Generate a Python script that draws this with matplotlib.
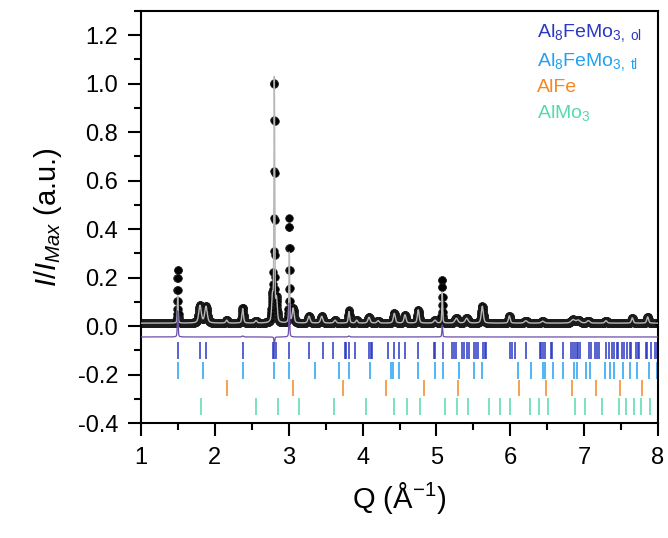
import numpy as np
import matplotlib.pyplot as plt
from matplotlib.ticker import MultipleLocator

plt.rcParams['font.family'] = 'Liberation Sans'
plt.rcParams['mathtext.fontset'] = 'custom'
plt.rcParams['mathtext.rm'] = 'Liberation Sans'
plt.rcParams['mathtext.it'] = 'Liberation Sans:italic'

# reflections seen in the pattern: position, observed / calculated height, FWHM
peak_q = [1.497, 1.799, 1.880, 2.160, 2.377, 2.557, 2.780, 2.805, 2.835, 3.008, 3.060,
          3.275, 3.447, 3.627, 3.816, 3.920, 4.087, 4.210, 4.430, 4.574, 4.754, 4.980,
          5.079, 5.270, 5.410, 5.621, 5.987, 6.210, 6.439, 6.850, 6.920, 7.056, 7.296,
          7.652, 7.860]
obs_h = [0.225, 0.072, 0.068, 0.012, 0.064, 0.010, 0.10, 0.99, 0.09, 0.43, 0.06,
         0.028, 0.028, 0.012, 0.052, 0.012, 0.024, 0.010, 0.040, 0.034, 0.055, 0.012,
         0.180, 0.020, 0.020, 0.070, 0.030, 0.010, 0.008, 0.014, 0.012, 0.010, 0.010,
         0.022, 0.026]
calc_h = [0.115, 0.072, 0.068, 0.012, 0.060, 0.010, 0.10, 1.02, 0.09, 0.29, 0.06,
          0.028, 0.028, 0.012, 0.048, 0.012, 0.024, 0.010, 0.040, 0.034, 0.055, 0.012,
          0.130, 0.020, 0.020, 0.070, 0.030, 0.010, 0.008, 0.014, 0.012, 0.010, 0.010,
          0.022, 0.026]
peak_fw = [0.012, 0.040, 0.040, 0.030, 0.024, 0.030, 0.025, 0.012, 0.025, 0.012, 0.030,
           0.035, 0.035, 0.035, 0.022, 0.030, 0.035, 0.035, 0.032, 0.032, 0.028, 0.040,
           0.012, 0.045, 0.045, 0.032, 0.028, 0.045, 0.045, 0.060, 0.060, 0.045, 0.035,
           0.028, 0.028]
background = 0.012
diff_offset = -0.045

# reflection markers of each phase
q_ol = [1.505, 1.799, 1.884, 2.377, 2.783, 2.805, 2.828, 2.999, 3.275, 3.460, 3.596,
        3.762, 3.776, 3.816, 3.897, 4.083, 4.110, 4.128, 4.340, 4.425, 4.497, 4.574,
        4.754, 4.971, 4.985, 5.089, 5.207, 5.238, 5.269, 5.350, 5.377, 5.418, 5.437,
        5.509, 5.536, 5.559, 5.634, 5.653, 5.671, 5.996, 6.023, 6.060, 6.209, 6.398,
        6.420, 6.447, 6.474, 6.547, 6.561, 6.718, 6.822, 6.845, 6.876, 6.899, 6.921,
        6.948, 7.066, 7.097, 7.143, 7.178, 7.205, 7.296, 7.340, 7.381, 7.404, 7.445,
        7.462, 7.516, 7.544, 7.584, 7.621, 7.638, 7.698, 7.725, 7.747, 7.837, 7.855,
        7.901, 7.959, 7.982]
q_tl = [1.497, 1.835, 2.377, 2.805, 2.999, 3.356, 3.677, 3.820, 4.101, 4.381, 4.408,
        4.497, 4.754, 4.981, 5.093, 5.310, 5.509, 5.617, 6.100, 6.284, 6.447, 6.470,
        6.574, 6.718, 6.866, 6.899, 7.025, 7.079, 7.278, 7.350, 7.408, 7.530, 7.621,
        7.711, 7.874, 7.990]
q_alfe = [2.159, 3.054, 3.735, 4.321, 4.828, 5.292, 6.115, 6.479, 6.830, 7.166, 7.483,
          7.790]
q_almo3 = [1.814, 2.552, 2.859, 3.134, 3.617, 4.042, 4.425, 4.606, 4.776, 5.117, 5.277,
           5.429, 5.717, 5.859, 5.992, 6.267, 6.394, 6.517, 6.877, 7.010, 7.236, 7.469,
           7.573, 7.672, 7.776, 7.885]

phase_names = ['Al$_8$FeMo$_{\\mathrm{3,\\ ol}}$', 'Al$_8$FeMo$_{\\mathrm{3,\\ tl}}$',
               'AlFe', 'AlMo$_3$']
phase_cols = ['#2b38c2', '#22a0f2', '#f7871f', '#55dbab']
phase_q = [q_ol, q_tl, q_alfe, q_almo3]
tick_rows = [(-0.137, -0.065), (-0.218, -0.147), (-0.290, -0.222), (-0.366, -0.296)]


def pv(q, q0, fw, eta=0.5):
    x = (q - q0) / fw
    return eta / (1 + 4 * x**2) + (1 - eta) * np.exp(-4 * np.log(2) * x**2)


Q = np.arange(1.0, 8.0, 0.002)
obs = np.full_like(Q, background)
calc = np.full_like(Q, background)
for q0, ho, hc, fw in zip(peak_q, obs_h, calc_h, peak_fw):
    obs += ho * pv(Q, q0, fw)
    calc += hc * pv(Q, q0, fw)
diff = obs - calc + diff_offset

fig = plt.figure(figsize=(6.68, 5.38), dpi=100)
ax = fig.add_axes([141/668, 115/538, 517/668, 412/538])

ax.plot(Q, obs, 'o', ms=5.5, color='k', mec='#222222', mew=0.5, zorder=2)
ax.plot(Q, calc, '-', color='#b8b8b8', lw=1.0, zorder=3)
ax.plot(Q, diff, '-', color='#6a4fa8', lw=0.9, zorder=4)

for qs, col, (y0, y1) in zip(phase_q, phase_cols, tick_rows):
    ax.vlines(qs, y0, y1, color=col, lw=1.1, zorder=2)

yt = [0.9376, 0.866, 0.804, 0.740]
for name, col, yy in zip(phase_names, phase_cols, yt):
    ax.text(0.766, yy, name, color=col, fontsize=14, transform=ax.transAxes,
            ha='left', va='baseline')

ax.set_xlim(1, 8)
ax.set_ylim(-0.4, 1.3)
ax.xaxis.set_major_locator(MultipleLocator(1))
ax.xaxis.set_minor_locator(MultipleLocator(0.5))
ax.yaxis.set_minor_locator(MultipleLocator(0.1))
ax.set_yticks(np.arange(-0.4, 1.21, 0.2))
ax.set_yticklabels(['-0.4', '-0.2', '0.0', '0.2', '0.4', '0.6', '0.8', '1.0', '1.2'])
ax.tick_params(which='major', direction='out', length=9.5, width=1.5, labelsize=17)
ax.tick_params(which='minor', direction='out', length=5, width=1.5)
ax.tick_params(axis='y', pad=7)
ax.tick_params(axis='x', pad=8)
for s in ax.spines.values():
    s.set_linewidth(1.5)

ax.set_xlabel('Q (Å$^{-1}$)', fontsize=21, labelpad=8)
ax.set_ylabel('$I/I_{Max}$ (a.u.)', fontsize=21, labelpad=10)

plt.savefig('out.png', dpi=100)
